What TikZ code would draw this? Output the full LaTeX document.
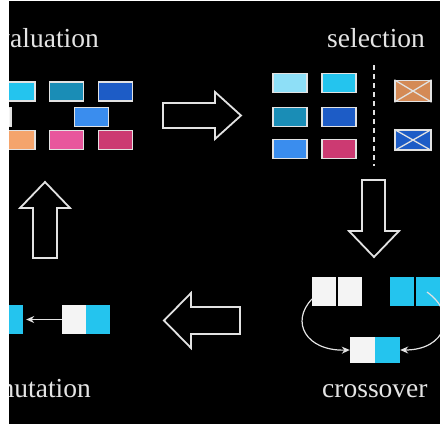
\documentclass[tikz,border=0pt]{standalone}
\usepackage{fontspec}
\setmainfont{Liberation Serif}
\usetikzlibrary{arrows.meta}

\definecolor{inkline}{HTML}{E2E2E2}
\definecolor{labelgrey}{HTML}{E4E4E4}
\definecolor{cyanA}{HTML}{24C4EE}
\definecolor{cyanL}{HTML}{8EDFF7}
\definecolor{tealA}{HTML}{1A8DB6}
\definecolor{blueD}{HTML}{1D5CC6}
\definecolor{blueM}{HTML}{3A8DEE}
\definecolor{orangeA}{HTML}{F4A46C}
\definecolor{orangeX}{HTML}{D48A56}
\definecolor{pinkA}{HTML}{E8569C}
\definecolor{magA}{HTML}{CC3A72}
\definecolor{whiteG}{HTML}{F4F4F4}

\tikzset{
  stagelabel/.style={text=labelgrey, inner sep=0pt, font=\fontsize{27.5}{31}\selectfont},
  gene/.style={draw=inkline, line width=1.3pt, minimum width=34pt, minimum height=19pt, inner sep=0pt},
  half/.style={inner sep=0pt, minimum width=24pt, minimum height=29pt},
  bigarrow/.style={draw=inkline, line width=1.8pt, fill=black, line join=miter},
  flow/.style={draw=inkline, line width=1.2pt, -{Stealth[length=8pt,width=7pt]}},
  cut/.style={draw=inkline, line width=1.3pt},
}

\begin{document}
\begin{tikzpicture}[x=1pt,y=-1pt]
\useasboundingbox (0,0) rectangle (440,424);
\fill[white] (0,0) rectangle (440,424);
\fill[black] (9,1) rectangle (440,424);

\begin{scope}
\clip (9,1) rectangle (440,424);

% stage labels (the frame crops the two on the left)
\node[stagelabel, anchor=base east] (evaltxt) at (99,47) {evaluation};
\node[stagelabel, anchor=base west] (seltxt) at (327,47) {selection};
\node[stagelabel, anchor=base west] (crosstxt) at (322,397) {crossover};
\node[stagelabel, anchor=base east] (muttxt) at (91,397) {mutation};

% evaluated population
\node[gene, fill=cyanA] (e11) at (18,91.5) {};
\node[gene, fill=tealA] (e12) at (66.5,91.5) {};
\node[gene, fill=blueD] (e13) at (115.5,91.5) {};
\node[gene, fill=whiteG] (e21) at (-6,117) {};
\node[gene, fill=blueM] (e22) at (91.5,117) {};
\node[gene, fill=orangeA] (e31) at (18,140) {};
\node[gene, fill=pinkA] (e32) at (66.5,140) {};
\node[gene, fill=magA] (e33) at (115.5,140) {};

% hollow arrow: evaluation -> selection
\draw[bigarrow] (163,103) -- (215,103) -- (215,92) -- (241,115.5) -- (215,139) -- (215,128) -- (163,128) -- cycle;

% selected individuals
\node[gene, fill=cyanL] (s11) at (290,83) {};
\node[gene, fill=cyanA] (s12) at (339,83) {};
\node[gene, fill=tealA] (s21) at (290,117) {};
\node[gene, fill=blueD] (s22) at (339,117) {};
\node[gene, fill=blueM] (s31) at (290,149) {};
\node[gene, fill=magA] (s32) at (339,149) {};

% separator
\draw[inkline, line width=2pt, dash pattern=on 5pt off 4pt] (374,65) -- (374,166);

% discarded individuals
\node[gene, fill=orangeX, minimum width=36pt, minimum height=21pt] (x1) at (413,91) {};
\draw[cut] (x1.north west) -- (x1.south east) (x1.south west) -- (x1.north east);
\node[gene, fill=blueD, minimum width=36pt, minimum height=20pt] (x2) at (413,140) {};
\draw[cut] (x2.north west) -- (x2.south east) (x2.south west) -- (x2.north east);

% hollow arrow: selection -> crossover
\draw[bigarrow] (362,180) -- (385,180) -- (385,231) -- (399,231) -- (374,257) -- (349,231) -- (362,231) -- cycle;

% crossover: parents and child
\node[half, fill=whiteG] (w1) at (324,291.5) {};
\node[half, fill=whiteG] (w2) at (350,291.5) {};
\node[half, fill=cyanA] (b1) at (402,291.5) {};
\node[half, fill=cyanA] (b2) at (428,291.5) {};
\node[half, fill=whiteG, minimum height=26pt, minimum width=25pt] (c1) at (362.5,350) {};
\node[half, fill=cyanA, minimum height=26pt, minimum width=25pt] (c2) at (387.5,350) {};
\coordinate (wstart) at (312,299);
\coordinate (bstart) at (427,292);
\draw[flow] (wstart) .. controls (290,322) and (306,351) .. (c1.west);
\draw[flow] (bstart) .. controls (458,314) and (446,350) .. (c2.east);

% hollow arrow: crossover -> mutation
\draw[bigarrow] (240,307) -- (191,307) -- (191,293) -- (164,320.5) -- (191,348) -- (191,334) -- (240,334) -- cycle;

% mutation
\node[half, fill=cyanA] (m1) at (11,319.5) {};
\node[half, fill=whiteG] (m2) at (74,319.5) {};
\node[half, fill=cyanA] (m3) at (98,319.5) {};
\draw[flow] (m2.west) -- ([xshift=3pt]m1.east);

% hollow arrow: mutation -> evaluation
\draw[bigarrow] (33,258) -- (33,208) -- (20,208) -- (45,182) -- (70,208) -- (57,208) -- (57,258) -- cycle;
\end{scope}
\end{tikzpicture}
\end{document}
